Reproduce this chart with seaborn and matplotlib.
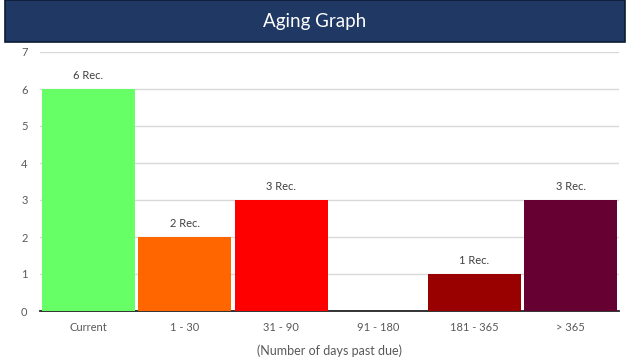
import matplotlib
matplotlib.use("Agg")
import matplotlib.pyplot as plt
from matplotlib.patches import Rectangle
import seaborn as sns
import pandas as pd

categories = ["Current", "1 - 30", "31 - 90", "91 - 180", "181 - 365", "> 365"]
records = [6, 2, 3, 0, 1, 3]
bar_colors = ["#66ff66", "#ff6600", "#ff0000", "#ffffff", "#990000", "#660033"]
title = "Aging Graph"
xlabel = "(Number of days past due)"

sns.set_theme(style="white")
plt.rcParams["font.family"] = ["Lato", "DejaVu Sans"]

df = pd.DataFrame({"bucket": categories, "records": records})

fig = plt.figure(figsize=(6.34, 3.6), dpi=100)
ax = fig.add_axes([40 / 634, 1 - 311 / 360, 579 / 634, 259 / 360])

sns.barplot(data=df, x="bucket", y="records", hue="bucket",
            palette=bar_colors, width=0.96, saturation=1,
            legend=False, ax=ax, zorder=3, linewidth=0)

ax.set_ylim(0, 7)
ax.set_xlim(-0.5, len(categories) - 0.5)
ax.set_yticks(range(0, 8))
ax.yaxis.grid(True, color="#d9d9d9", linewidth=1, zorder=0)
ax.set_axisbelow(True)
for s in ["top", "right", "left"]:
    ax.spines[s].set_visible(False)
ax.spines["bottom"].set_color("#222222")
ax.spines["bottom"].set_linewidth(1.3)
ax.tick_params(axis="both", length=0, labelsize=8, labelcolor="#595959")
ax.tick_params(axis="x", pad=8)
ax.tick_params(axis="y", pad=9)
ax.set_ylabel("")
ax.set_xlabel(xlabel, fontsize=9, color="#595959", labelpad=8)

for i, v in enumerate(records):
    if v > 0:
        ax.annotate(f"{v} Rec.", (i, v), xytext=(0, 6), textcoords="offset points",
                    ha="center", va="bottom", fontsize=8, color="#404040")

# title banner
banner = Rectangle((5 / 634, 1 - 42 / 360), 620 / 634, 42 / 360,
                   transform=fig.transFigure, facecolor="#1f3864",
                   edgecolor="#0d1a33", linewidth=1.2)
fig.patches.append(banner)
fig.text(0.5 * (5 + 625) / 634, 1 - 22 / 360, title, color="white",
         fontsize=13.5, ha="center", va="center")

fig.savefig("out.png", dpi=100)
